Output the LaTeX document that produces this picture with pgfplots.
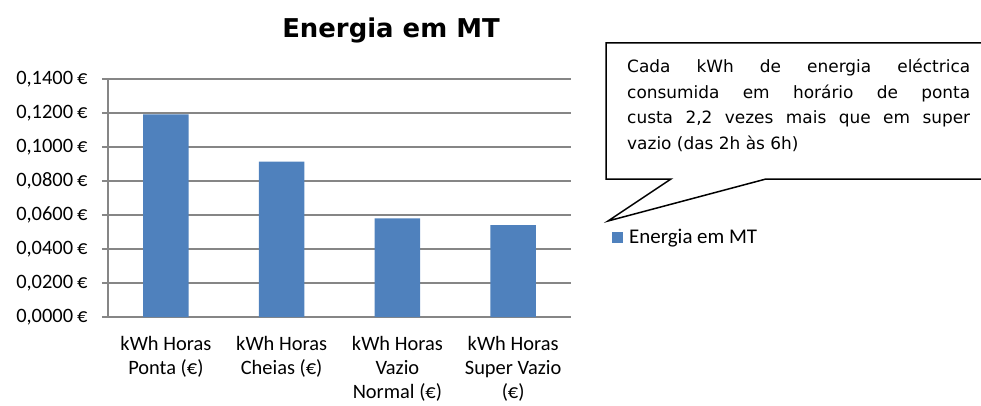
\documentclass[border=0pt]{standalone}
\usepackage{pgfplots}
\pgfplotsset{compat=1.18}
\usepackage{fontspec}
\setmainfont{Carlito}
\newfontfamily\callfont{DejaVu Sans}
\definecolor{barblue}{HTML}{4F81BD}
\definecolor{gridgray}{HTML}{868686}
\begin{document}
\begin{tikzpicture}[x=1bp,y=1bp]
\useasboundingbox (0,0) rectangle (981,405);
\begin{axis}[
  at={(108bp,88bp)}, anchor=south west,
  scale only axis, width=463bp, height=238bp,
  xmin=-0.5, xmax=3.5, ymin=0, ymax=0.14,
  axis lines=left, axis line style={-, draw=gridgray, line width=1.2bp},
  ymajorgrids, grid style={draw=gridgray, line width=1.2bp},
  ytick={0,0.02,...,0.141},
  major tick style={draw=gridgray, line width=1.2bp},
  tick align=outside,
  major tick length=6bp,
  xtick={0,1,2,3},
  x tick style={draw=none},
  minor xtick={-0.5,0.5,1.5,2.5,3.5},
  minor tick length=6bp,
  minor tick style={draw=gridgray, line width=1.2bp},
  xticklabels={{kWh Horas\\[-1.5bp]Ponta (€)},{kWh Horas\\[-1.5bp]Cheias (€)},{kWh Horas\\[-1.5bp]Vazio\\[-1.5bp]Normal (€)},{kWh Horas\\[-1.5bp]Super Vazio\\[-1.5bp](€)}},
  x tick label style={align=center, font=\fontsize{20.5}{25.5}\selectfont, anchor=north, yshift=-9.5bp},
  y tick label style={font=\fontsize{20.5}{27}\selectfont, xshift=-11bp},
  yticklabel={\pgfmathprintnumber[fixed, fixed zerofill, precision=4, use comma, assume math mode=true]{\tick}\hspace{4bp}€},
  scaled y ticks=false,
  legend style={at={(1.0886,0.334)}, anchor=west, draw=none, fill=none, font=\fontsize{21}{27}\selectfont, inner sep=0pt},
  legend image code/.code={\fill[barblue] (0bp,-5.5bp) rectangle (11bp,5.5bp);},
]
\addplot[ybar, bar width=45.7bp, fill=barblue, draw=none] coordinates {(0,0.1192) (1,0.0914) (2,0.0580) (3,0.0541)};
\addlegendentry{\hspace{4bp}Energia em MT}
\end{axis}
\node[font=\callfont\bfseries\fontsize{26}{30}\selectfont, anchor=base] at (391,368) {Energia em MT};
\draw[black, line width=1.5bp] (985,226) -- (766,226) -- (608,184) -- (671,226) -- (606,226) -- (606,362) -- (985,362);
\node[anchor=north west, inner sep=0pt, font=\callfont\fontsize{17}{25.7}\selectfont, align=left] at (627,346) {%
\makebox[343bp][s]{Cada kWh de energia eléctrica}\\
\makebox[343bp][s]{consumida em horário de ponta}\\
\makebox[343bp][s]{custa 2,2 vezes mais que em super}\\
vazio (das 2h às 6h)};
\end{tikzpicture}
\end{document}
